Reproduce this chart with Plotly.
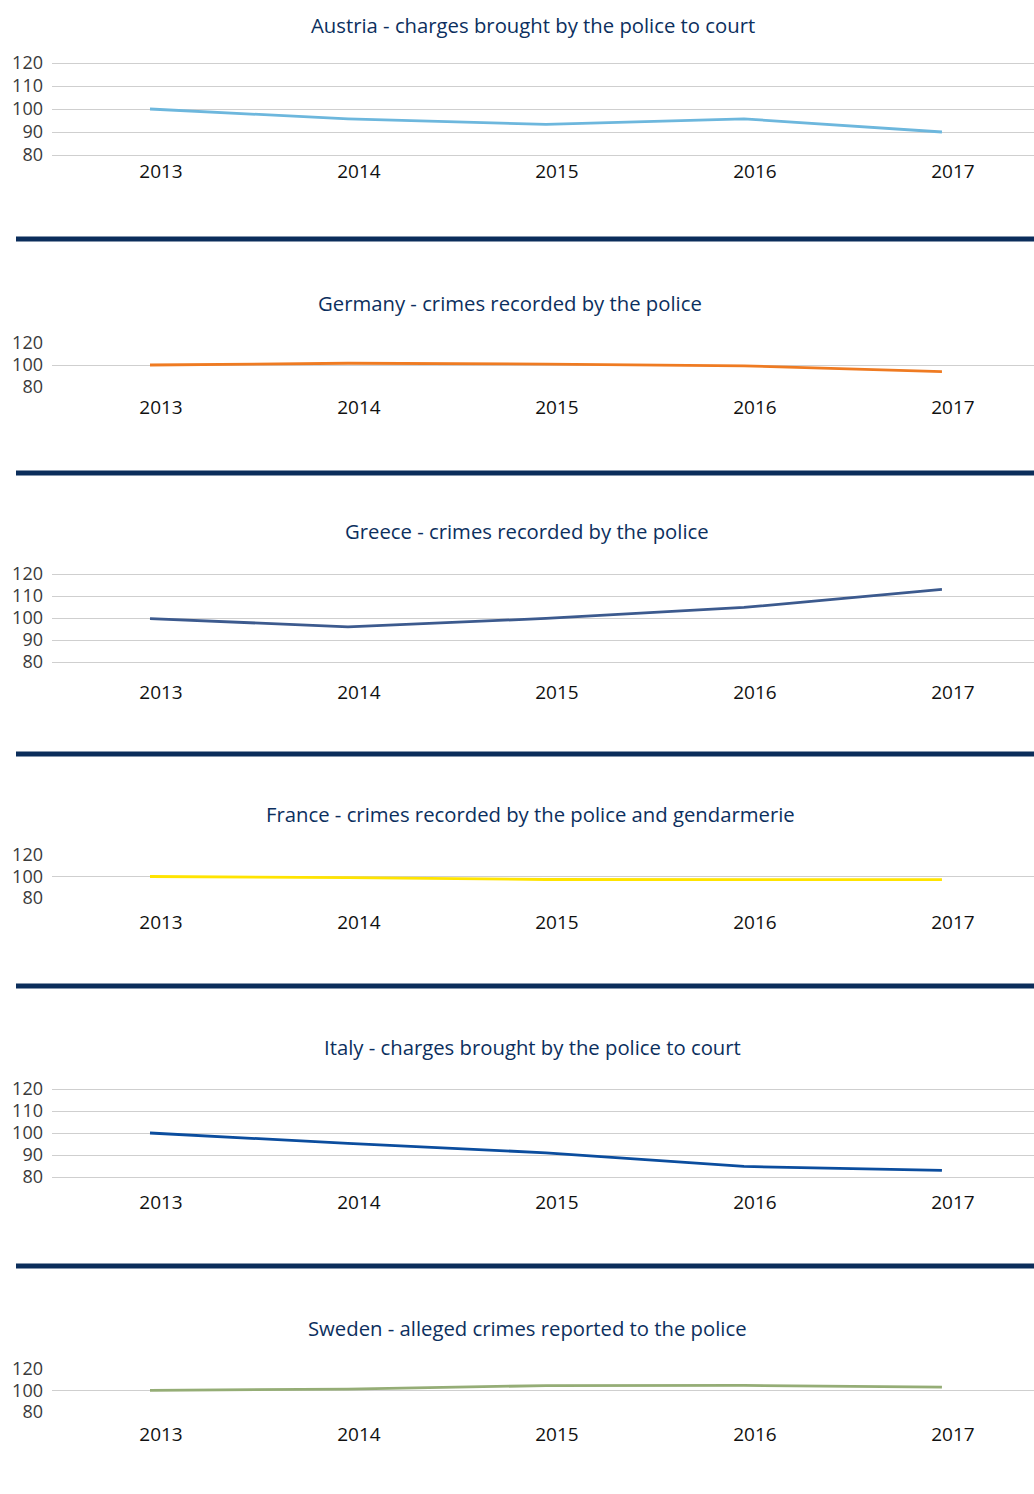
import plotly.graph_objects as go
from plotly.subplots import make_subplots

years = ["2013", "2014", "2015", "2016", "2017"]

titles = [
    "Austria - charges brought by the police to court",
    "Germany - crimes recorded by the police",
    "Greece - crimes recorded by the police",
    "France - crimes recorded by the police and gendarmerie",
    "Italy - charges brought by the police to court",
    "Sweden - alleged crimes reported to the police",
]

austria = [100, 95.7, 93.3, 95.7, 90]
germany = [100, 101.6, 100.8, 99.2, 94]
greece = [99.7, 96, 99.8, 104.8, 113]
france = [100, 99.0, 97.2, 97.1, 97.1]
italy = [100, 95.3, 91, 84.8, 83]
sweden = [100.2, 101.2, 104.6, 104.7, 103.2]

series = [austria, germany, greece, france, italy, sweden]
colors = ["#6db7dd", "#ef7b22", "#3c5a8e", "#ffe400", "#0b4d9e", "#95ad76"]
y_ticks = [
    [80, 90, 100, 110, 120],
    [80, 100, 120],
    [80, 90, 100, 110, 120],
    [80, 100, 120],
    [80, 90, 100, 110, 120],
    [80, 100, 120],
]

W, H = 1034, 1494
# pixel layout: (y of 120 gridline, y of 80 gridline, title y, year-label offset, title centre x)
panels = [
    (63, 155, 25, 14, 533),
    (343, 387, 303, 19, 510),
    (574, 662, 531, 28, 527),
    (855, 898, 814, 23, 530),
    (1089, 1177, 1047, 23, 532),
    (1369, 1412, 1328, 21, 527),
]
separators = [239, 473, 754, 986, 1266]

fig = make_subplots(rows=6, cols=1)

navy = "#0c2f5e"
for i, (vals, col) in enumerate(zip(series, colors)):
    r = i + 1
    fig.add_trace(
        go.Scatter(x=years, y=vals, mode="lines",
                   line=dict(color=col, width=2.8), showlegend=False,
                   hoverinfo="skip"),
        row=r, col=1,
    )

for i, (top, bot, ty, off, tx) in enumerate(panels):
    r = i + 1
    px_per = (bot - top) / 40.0
    pad = 0.8
    top_p = top - pad * px_per
    bot_p = bot + pad * px_per
    suffix = "" if r == 1 else str(r)
    fig.layout["yaxis" + suffix].update(
        domain=[1 - bot_p / H, 1 - top_p / H],
        range=[80 - pad, 120 + pad],
        tickvals=y_ticks[i],
        showgrid=True, gridcolor="#cfcfcf", gridwidth=1,
        zeroline=False, showline=False, ticks="",
        tickfont=dict(family="Open Sans", size=18, color="#3a3a3a"),
        ticklabelstandoff=8,
        automargin=False,
        fixedrange=True,
    )
    fig.layout["xaxis" + suffix].update(
        domain=[52 / W, 1],
        range=[-0.495, 4.465],
        type="category",
        showgrid=False, zeroline=False, showline=False, ticks="",
        tickfont=dict(family="Open Sans", size=19, color="#111111", weight=500),
        ticklabelshift=11,
        ticklabelstandoff=max(off - 13, 0),
        automargin=False,
        fixedrange=True,
    )
    fig.add_annotation(
        text=titles[i], xref="paper", yref="paper",
        x=tx / W, y=1 - ty / H, xanchor="center", yanchor="middle",
        showarrow=False,
        font=dict(family="Open Sans", size=20.3, color=navy, weight=500),
    )

for sy in separators:
    fig.add_shape(type="line", xref="paper", yref="paper",
                  x0=16 / W, x1=1, y0=1 - sy / H, y1=1 - sy / H,
                  line=dict(color="#0b2d5b", width=5))

fig.update_layout(
    template="none",
    width=W, height=H,
    margin=dict(l=0, r=0, t=0, b=0, pad=0),
    paper_bgcolor="white", plot_bgcolor="white",
    showlegend=False,
)

fig.write_html("out.html")
